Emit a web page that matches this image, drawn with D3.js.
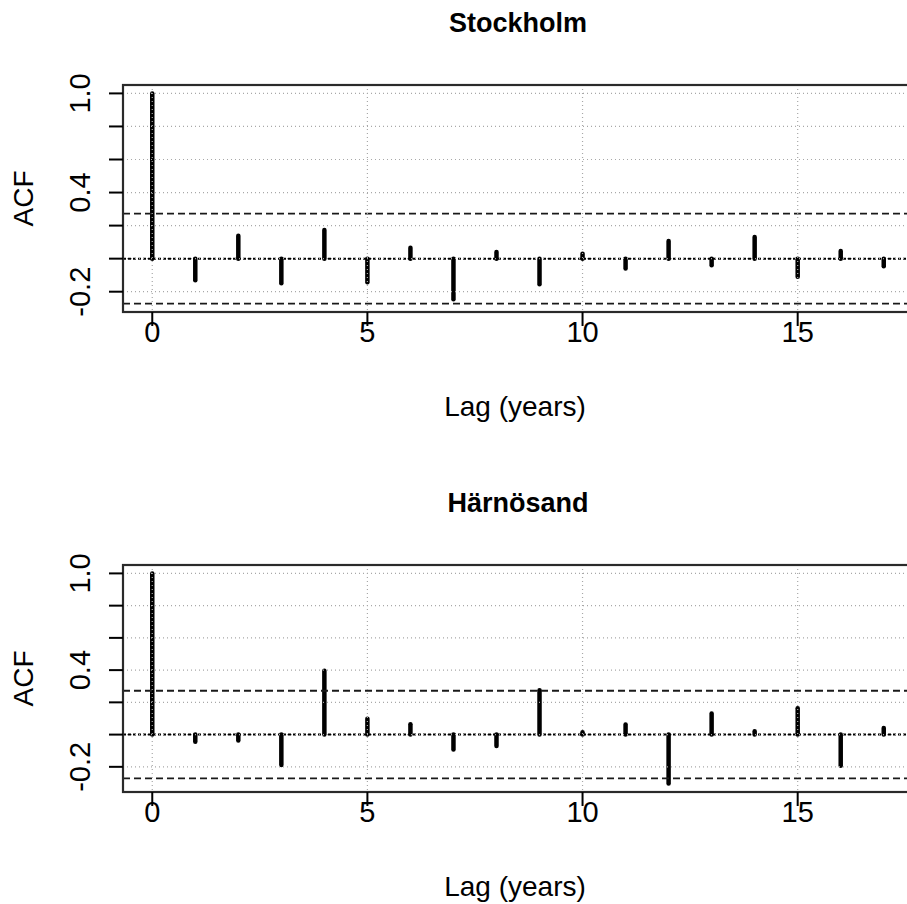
<!DOCTYPE html>
<html>
<head>
    <title>ACF Stockholm / Härnösand</title>
    <script src="https://d3js.org/d3.v7.min.js"></script>
    <style>
        body {
            margin: 0;
            padding: 0;
            background: white;
        }
        svg text {
            font-family: "Liberation Sans", Arial, Helvetica, sans-serif;
            fill: black;
        }
        .title {
            font-size: 27px;
            font-weight: bold;
            text-anchor: middle;
        }
        .axis-label {
            font-size: 28px;
            text-anchor: middle;
        }
        .tick-label {
            font-size: 29px;
            text-anchor: middle;
        }
    </style>
</head>
<body>
    <svg id="chart" width="907" height="904"></svg>
    <script>
        // lags in years
        const lags = [0, 1, 2, 3, 4, 5, 6, 7, 8, 9, 10, 11, 12, 13, 14, 15, 16, 17];

        // autocorrelation values
        const stockholmAcf = [1, -0.131, 0.139, -0.149, 0.173, -0.143, 0.066, -0.246, 0.040,
                              -0.155, 0.030, -0.060, 0.107, -0.040, 0.131, -0.109, 0.046, -0.046];
        const harnosandAcf = [1, -0.045, -0.037, -0.189, 0.396, 0.098, 0.064, -0.092, -0.070,
                              0.275, 0.015, 0.062, -0.304, 0.131, 0.020, 0.164, -0.193, 0.041];

        // 95% confidence bound
        const stockholmConf = 0.272;
        const harnosandConf = 0.272;

        const panelNames = ['Stockholm', 'Härnösand'];

        const yTicks = [-0.2, 0, 0.2, 0.4, 0.6, 0.8, 1.0];
        const yTickLabels = ['-0.2', '0.4', '1.0'];   // R drops the ones that would overlap
        const xTicks = [0, 5, 10, 15];

        const svg = d3.select('#chart');

        const margin = { left: 123, top: 85 };
        const plotW = 790;
        const plotH = 227;
        const panelStep = 480;

        // R style 4% axis expansion
        function expand(lo, hi) {
            const d = (hi - lo) * 0.04;
            return [lo - d, hi + d];
        }

        function drawPanel(idx, name, acf, conf) {
            const oy = idx * panelStep;
            const g = svg.append('g').attr('transform', `translate(0,${oy})`);

            const x = d3.scaleLinear()
                .domain(expand(d3.min(lags), d3.max(lags)))
                .range([margin.left, margin.left + plotW]);

            const yMin = Math.min(d3.min(acf), -conf);
            const yMax = Math.max(d3.max(acf), conf);
            const y = d3.scaleLinear()
                .domain(expand(yMin, yMax))
                .range([margin.top + plotH, margin.top]);

            // spikes
            g.append('g')
                .selectAll('line')
                .data(lags)
                .join('line')
                .attr('x1', d => x(d))
                .attr('x2', d => x(d))
                .attr('y1', y(0))
                .attr('y2', (d, i) => y(acf[i]))
                .attr('stroke', 'black')
                .attr('stroke-width', 4.5)
                .attr('stroke-linecap', 'round');

            // zero line
            g.append('line')
                .attr('x1', margin.left).attr('x2', margin.left + plotW)
                .attr('y1', y(0)).attr('y2', y(0))
                .attr('stroke', 'black')
                .attr('stroke-width', 2)
                .attr('stroke-dasharray', '3,2');

            // confidence bounds
            g.append('g')
                .selectAll('line')
                .data([conf, -conf])
                .join('line')
                .attr('x1', margin.left).attr('x2', margin.left + plotW)
                .attr('y1', d => y(d)).attr('y2', d => y(d))
                .attr('stroke', '#1a1a1a')
                .attr('stroke-width', 1.8)
                .attr('stroke-dasharray', '7,4');

            // grid (drawn over the spikes)
            const grid = g.append('g')
                .attr('stroke', '#a8a8a8')
                .attr('stroke-width', 1.2)
                .attr('stroke-dasharray', '1,3');
            grid.selectAll('.hg')
                .data(yTicks)
                .join('line')
                .attr('class', 'hg')
                .attr('x1', margin.left).attr('x2', margin.left + plotW)
                .attr('y1', d => y(d)).attr('y2', d => y(d));
            grid.selectAll('.vg')
                .data(xTicks)
                .join('line')
                .attr('class', 'vg')
                .attr('x1', d => x(d)).attr('x2', d => x(d))
                .attr('y1', margin.top).attr('y2', margin.top + plotH);

            // box
            g.append('rect')
                .attr('x', margin.left)
                .attr('y', margin.top)
                .attr('width', plotW)
                .attr('height', plotH)
                .attr('fill', 'none')
                .attr('stroke', '#2a2a2a')
                .attr('stroke-width', 2.2);

            // y axis ticks
            g.append('g')
                .selectAll('line')
                .data(yTicks)
                .join('line')
                .attr('x1', margin.left - 14).attr('x2', margin.left)
                .attr('y1', d => y(d)).attr('y2', d => y(d))
                .attr('stroke', 'black')
                .attr('stroke-width', 2);

            g.append('g')
                .selectAll('text')
                .data(yTickLabels)
                .join('text')
                .attr('class', 'tick-label')
                .attr('transform', d => `translate(${margin.left - 33},${y(+d)}) rotate(-90)`)
                .text(d => d);

            // x axis ticks
            g.append('g')
                .selectAll('line')
                .data(xTicks)
                .join('line')
                .attr('x1', d => x(d)).attr('x2', d => x(d))
                .attr('y1', margin.top + plotH).attr('y2', margin.top + plotH + 14)
                .attr('stroke', 'black')
                .attr('stroke-width', 2);

            g.append('g')
                .selectAll('text')
                .data(xTicks)
                .join('text')
                .attr('class', 'tick-label')
                .attr('x', d => x(d))
                .attr('y', 342)
                .text(d => d);

            // labels
            g.append('text')
                .attr('class', 'axis-label')
                .attr('x', 515)
                .attr('y', 416)
                .text('Lag (years)');

            g.append('text')
                .attr('class', 'axis-label')
                .attr('transform', `translate(33,${margin.top + plotH / 2}) rotate(-90)`)
                .text('ACF');

            g.append('text')
                .attr('class', 'title')
                .attr('x', margin.left + plotW / 2)
                .attr('y', 32)
                .text(name);
        }

        drawPanel(0, panelNames[0], stockholmAcf, stockholmConf);
        drawPanel(1, panelNames[1], harnosandAcf, harnosandConf);
    </script>
</body>
</html>
